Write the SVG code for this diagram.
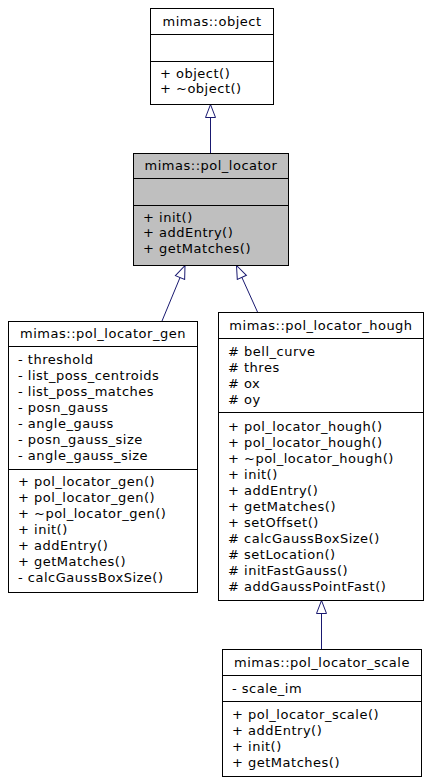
<svg xmlns="http://www.w3.org/2000/svg" width="431" height="783" viewBox="0 0 431 783">
<style>
.box{fill:#ffffff;stroke:#000000;stroke-width:1}
.hl{fill:#bfbfbf}
.sep{stroke:#000000;stroke-width:1}
.t{font-family:"DejaVu Sans","Liberation Sans",sans-serif;font-size:13px;letter-spacing:0.5px;fill:#000000}
.c{text-anchor:middle}
.edge{stroke:#191970;stroke-width:1;fill:none;marker-end:url(#tri)}
</style>
<defs>
<marker id="tri" markerUnits="userSpaceOnUse" markerWidth="16" markerHeight="12" refX="14" refY="6" orient="auto" viewBox="0 0 16 12">
<path d="M1,1 L14,6 L1,11 Z" fill="#ffffff" stroke="#191970" stroke-width="1"/>
</marker>
</defs>
<rect width="431" height="783" fill="#ffffff"/>
<g id="connectors">
<path class="edge" d="M210.5,153 L210.5,104.5"/>
<path class="edge" d="M162,321 L185,265.5"/>
<path class="edge" d="M257.5,312 L236.5,265.5"/>
<path class="edge" d="M321.5,649 L321.5,600.5"/>
</g>
<g id="object">
<rect class="box" x="150.5" y="8.5" width="123" height="96"/>
<line class="sep" x1="150.5" y1="34.5" x2="273.5" y2="34.5"/>
<line class="sep" x1="150.5" y1="61.5" x2="273.5" y2="61.5"/>
<text class="t c" x="212" y="26">mimas::object</text>
<text class="t" x="160" y="78">+ object()</text>
<text class="t" x="160" y="93">+ ~object()</text>
</g>
<g id="pol_locator">
<rect class="box hl" x="133.5" y="153.5" width="155" height="112"/>
<line class="sep" x1="133.5" y1="178.5" x2="288.5" y2="178.5"/>
<line class="sep" x1="133.5" y1="205.5" x2="288.5" y2="205.5"/>
<text class="t c" x="211" y="170">mimas::pol_locator</text>
<text class="t" x="143" y="221.5">+ init()</text>
<text class="t" x="143" y="237">+ addEntry()</text>
<text class="t" x="143" y="252.5">+ getMatches()</text>
</g>
<g id="pol_locator_gen">
<rect class="box" x="8.5" y="321.5" width="189" height="271"/>
<line class="sep" x1="8.5" y1="346.5" x2="197.5" y2="346.5"/>
<line class="sep" x1="8.5" y1="469.5" x2="197.5" y2="469.5"/>
<text class="t c" x="103" y="337.5">mimas::pol_locator_gen</text>
<text class="t" x="18" y="363.5">- threshold</text>
<text class="t" x="18" y="379.5">- list_poss_centroids</text>
<text class="t" x="18" y="395.5">- list_poss_matches</text>
<text class="t" x="18" y="411.5">- posn_gauss</text>
<text class="t" x="18" y="427.5">- angle_gauss</text>
<text class="t" x="18" y="443.5">- posn_gauss_size</text>
<text class="t" x="18" y="459.5">- angle_gauss_size</text>
<text class="t" x="18" y="486">+ pol_locator_gen()</text>
<text class="t" x="18" y="502">+ pol_locator_gen()</text>
<text class="t" x="18" y="518">+ ~pol_locator_gen()</text>
<text class="t" x="18" y="534">+ init()</text>
<text class="t" x="18" y="550">+ addEntry()</text>
<text class="t" x="18" y="566">+ getMatches()</text>
<text class="t" x="18" y="582">- calcGaussBoxSize()</text>
</g>
<g id="pol_locator_hough">
<rect class="box" x="218.5" y="312.5" width="205" height="288"/>
<line class="sep" x1="218.5" y1="338.5" x2="423.5" y2="338.5"/>
<line class="sep" x1="218.5" y1="412.5" x2="423.5" y2="412.5"/>
<text class="t c" x="321" y="329.5">mimas::pol_locator_hough</text>
<text class="t" x="228" y="355.5"># bell_curve</text>
<text class="t" x="228" y="371.5"># thres</text>
<text class="t" x="228" y="387.5"># ox</text>
<text class="t" x="228" y="403.5"># oy</text>
<text class="t" x="228" y="430.5">+ pol_locator_hough()</text>
<text class="t" x="228" y="446.5">+ pol_locator_hough()</text>
<text class="t" x="228" y="462.5">+ ~pol_locator_hough()</text>
<text class="t" x="228" y="478.5">+ init()</text>
<text class="t" x="228" y="494.5">+ addEntry()</text>
<text class="t" x="228" y="510.5">+ getMatches()</text>
<text class="t" x="228" y="526.5">+ setOffset()</text>
<text class="t" x="228" y="542.5"># calcGaussBoxSize()</text>
<text class="t" x="228" y="558.5"># setLocation()</text>
<text class="t" x="228" y="574.5"># initFastGauss()</text>
<text class="t" x="228" y="590.5"># addGaussPointFast()</text>
</g>
<g id="pol_locator_scale">
<rect class="box" x="222.5" y="649.5" width="199" height="127"/>
<line class="sep" x1="222.5" y1="675.5" x2="421.5" y2="675.5"/>
<line class="sep" x1="222.5" y1="701.5" x2="421.5" y2="701.5"/>
<text class="t c" x="322" y="666.5">mimas::pol_locator_scale</text>
<text class="t" x="232" y="692.5">- scale_im</text>
<text class="t" x="232" y="718.5">+ pol_locator_scale()</text>
<text class="t" x="232" y="734.5">+ addEntry()</text>
<text class="t" x="232" y="750.5">+ init()</text>
<text class="t" x="232" y="766.5">+ getMatches()</text>
</g>
</svg>
